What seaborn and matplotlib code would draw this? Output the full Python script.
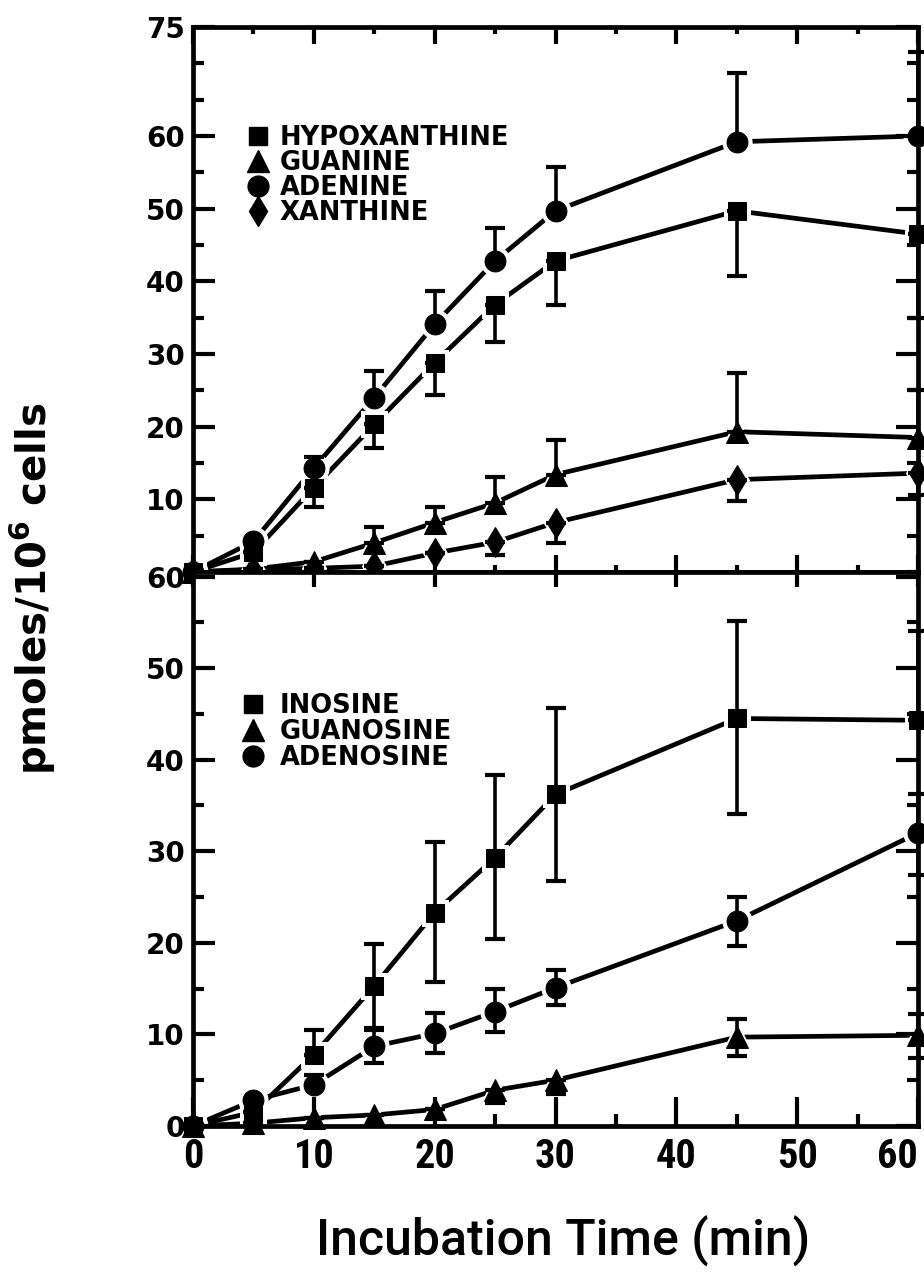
import numpy as np
import pandas as pd
import matplotlib
matplotlib.use("Agg")
import matplotlib.pyplot as plt
from matplotlib.lines import Line2D
from matplotlib.ticker import MultipleLocator, FixedLocator, FixedFormatter
from matplotlib import font_manager
import seaborn as sns

# ---- data -----------------------------------------------------------------
time = [0, 5, 10, 15, 20, 25, 30, 45, 60]

# purine bases (upper panel)
hypoxanthine = [0, 2.7, 11.6, 20.3, 28.8, 36.8, 42.8, 49.7, 46.5]
hypoxanthine_lo = [0, 0, 2.6, 3.2, 4.4, 5.1, 6.0, 9.0, 11.5]
hypoxanthine_hi = [0, 0, 0, 0, 0, 0, 0, 0, 0]
guanine = [0, 0.4, 1.4, 4.0, 6.8, 9.5, 13.4, 19.3, 18.5]
guanine_lo = [0, 0, 0, 0, 0, 0, 0, 0, 0]
guanine_hi = [0, 0, 0, 2.2, 2.2, 3.6, 4.8, 8.1, 6.6]
adenine = [0, 4.2, 14.3, 24.0, 34.1, 42.8, 49.7, 59.2, 60.0]
adenine_lo = [0, 0, 0, 0, 0, 0, 0, 0, 0]
adenine_hi = [0, 0, 1.5, 3.6, 4.5, 4.6, 6.0, 9.4, 11.6]
xanthine = [0, 0.3, 0.5, 0.8, 2.6, 4.1, 6.8, 12.7, 13.6]
xanthine_lo = [0, 0, 0, 0, 0, 1.8, 2.8, 3.0, 3.0]
xanthine_hi = [0, 0, 0, 0, 0, 0, 0, 0, 0]

# nucleosides (lower panel)
inosine = [0, 1.5, 7.8, 15.3, 23.3, 29.3, 36.2, 44.5, 44.3]
inosine_lo = [0, 0, 0, 4.6, 7.6, 8.9, 9.5, 10.4, 0]
inosine_hi = [0, 0, 2.7, 4.6, 7.7, 9.0, 9.4, 10.6, 9.7]
guanosine = [0, 0.3, 0.9, 1.2, 1.8, 3.9, 5.0, 9.7, 9.9]
guanosine_lo = [0, 0, 0, 0, 0, 1.4, 1.5, 2.1, 2.5]
guanosine_hi = [0, 0, 0, 0, 0, 0, 0, 2.0, 2.3]
adenosine = [0, 2.8, 4.5, 8.7, 10.1, 12.5, 15.1, 22.4, 32.0]
adenosine_lo = [0, 0, 0, 1.8, 2.1, 2.2, 1.9, 2.7, 4.6]
adenosine_hi = [0, 0, 1.1, 1.8, 2.2, 2.5, 1.9, 2.6, 4.2]

upper_names = ["HYPOXANTHINE", "GUANINE", "ADENINE", "XANTHINE"]
lower_names = ["INOSINE", "GUANOSINE", "ADENOSINE"]
x_ticks = [0, 10, 20, 30, 40, 50, 60]
upper_ticks = [10, 20, 30, 40, 50, 60, 75]
lower_ticks = [0, 10, 20, 30, 40, 50, 60]

# ---- style ----------------------------------------------------------------
sns.set_style("ticks")
available = {f.name for f in font_manager.fontManager.ttflist}
narrow = next((n for n in ["Roboto Condensed", "Liberation Sans Narrow",
                           "DejaVu Sans Condensed"] if n in available),
              "DejaVu Sans")
label_family = "Roboto" if "Roboto" in available else "DejaVu Sans"
INK = "#000000"
plt.rcParams.update({
    "font.family": ["DejaVu Sans"],
    "mathtext.fontset": "dejavusans",
    "text.color": INK,
    "axes.labelcolor": INK,
    "xtick.color": INK,
    "ytick.color": INK,
    "axes.edgecolor": INK,
})

LW = 3.4
SPINE_W = 3.4

marker_kw = {
    "s": dict(marker="s", ms=13),
    "^": dict(marker="^", ms=16),
    "o": dict(marker="o", ms=15),
    "d": dict(marker="d", ms=15),
}


def long_frame(names, series):
    rows = []
    for name, vals in zip(names, series):
        for t, v in zip(time, vals):
            rows.append({"time": t, "value": v, "series": name})
    return pd.DataFrame(rows)


def draw_panel(ax, names, series, lows, highs, markers):
    df = long_frame(names, series)
    common = dict(x="time", y="value", ax=ax, estimator=None, errorbar=None,
                  legend=False)
    for name, mk in zip(names, markers):
        sub = df[df["series"] == name]
        # connecting line
        sns.lineplot(data=sub, color=INK, lw=LW, solid_capstyle="round",
                     clip_on=False, zorder=2.0, **common)
        # white collar so segments stop short of each symbol
        halo = dict(marker_kw[mk])
        halo["ms"] = halo["ms"] + 6
        sns.lineplot(data=sub, color="white", ls="none", mec="white",
                     mfc="white", clip_on=False, zorder=2.2, **halo, **common)
        # filled symbol
        sns.lineplot(data=sub, color=INK, ls="none", mec=INK, mfc=INK,
                     clip_on=False, zorder=3.0, **marker_kw[mk], **common)
    for vals, lo, hi in zip(series, lows, highs):
        yerr = np.array([lo, hi], dtype=float)
        ax.errorbar(time, vals, yerr=yerr, fmt="none", ecolor=INK,
                    elinewidth=2.6, capsize=7, capthick=3.0,
                    clip_on=False, zorder=4)
    handles = [Line2D([], [], ls="none", color=INK, **marker_kw[m])
               for m in markers]
    return handles


fig = plt.figure(figsize=(9.24, 12.73), dpi=100)
ax_top = fig.add_axes([0.2089, 0.5507, 0.7846, 0.4281])
ax_bot = fig.add_axes([0.2089, 0.1155, 0.7846, 0.4352])

h_top = draw_panel(ax_top, upper_names,
                   [hypoxanthine, guanine, adenine, xanthine],
                   [hypoxanthine_lo, guanine_lo, adenine_lo, xanthine_lo],
                   [hypoxanthine_hi, guanine_hi, adenine_hi, xanthine_hi],
                   ["s", "^", "o", "d"])
h_bot = draw_panel(ax_bot, lower_names,
                   [inosine, guanosine, adenosine],
                   [inosine_lo, guanosine_lo, adenosine_lo],
                   [inosine_hi, guanosine_hi, adenosine_hi],
                   ["s", "^", "o"])

for ax in (ax_top, ax_bot):
    ax.set_axisbelow(False)
    ax.set_xlim(0, 60)
    for side in ("top", "bottom", "left", "right"):
        ax.spines[side].set_visible(True)
        ax.spines[side].set_linewidth(SPINE_W)
        ax.spines[side].set_color(INK)
        ax.spines[side].set_zorder(2.5)
    ax.set_xlabel("")
    ax.set_ylabel("")
    ax.xaxis.set_major_locator(FixedLocator(x_ticks))
    ax.xaxis.set_minor_locator(MultipleLocator(5))
    ax.yaxis.set_minor_locator(MultipleLocator(5))

# upper panel axes
ax_top.set_ylim(0, 75)
ax_top.yaxis.set_major_locator(FixedLocator(upper_ticks))
ax_top.yaxis.set_major_formatter(FixedFormatter([str(t) for t in upper_ticks]))
ax_top.tick_params(axis="y", which="major", direction="in", left=True, right=True,
                   length=16, width=3, labelsize=20, pad=6)
ax_top.tick_params(axis="y", which="minor", direction="in", left=True, right=True,
                   length=8, width=3)
ax_top.tick_params(axis="x", which="major", direction="in", top=True, bottom=True,
                   length=12, width=3, labelbottom=False)
ax_top.tick_params(axis="x", which="minor", direction="in", top=True, bottom=True,
                   length=5, width=3)
for lab in ax_top.get_yticklabels():
    lab.set_fontweight("bold")

# lower panel axes
ax_bot.set_ylim(0, 60.5)
ax_bot.yaxis.set_major_locator(FixedLocator(lower_ticks))
ax_bot.tick_params(axis="y", which="major", direction="in", left=True, right=True,
                   length=16, width=3, labelsize=20, pad=6)
ax_bot.tick_params(axis="y", which="minor", direction="in", left=True, right=True,
                   length=8, width=3)
ax_bot.tick_params(axis="x", which="major", direction="in", bottom=True, top=False,
                   length=21, width=3, labelsize=29, pad=9)
ax_bot.tick_params(axis="x", which="minor", direction="in", bottom=True, top=False,
                   length=9, width=3)
for lab in ax_bot.get_yticklabels():
    lab.set_fontweight("bold")
xlabels = ax_bot.get_xticklabels()
for lab in xlabels:
    lab.set_family(narrow)
    lab.set_fontweight("bold")
xlabels[-1].set_horizontalalignment("right")

sec = ax_bot.secondary_xaxis("top")
sec.xaxis.set_major_locator(FixedLocator(x_ticks))
sec.tick_params(axis="x", which="major", direction="in", length=11, width=3,
                labeltop=False)
sec.spines["top"].set_visible(False)

# legends
leg_kw = dict(frameon=False, loc="upper left", handlelength=1.0,
              borderaxespad=0, borderpad=0,
              prop=dict(weight="bold", size=18.5))
leg1 = ax_top.legend(h_top, upper_names, bbox_to_anchor=(0.072, 0.821),
                     labelspacing=-0.03, handletextpad=0.35, **leg_kw)
leg2 = ax_bot.legend(h_bot, lower_names, bbox_to_anchor=(0.065, 0.782),
                     labelspacing=0.0, handletextpad=0.55, **leg_kw)

fig.text(0.036, 0.537, r"pmoles/10$^{\mathbf{6}}$ cells", rotation=90,
         ha="center", va="center", fontsize=29, fontweight="bold")
fig.text(0.609, 0.025, "Incubation Time (min)", ha="center", va="center",
         fontsize=36, family=label_family, fontweight="medium")

fig.savefig("out.png", dpi=100)
